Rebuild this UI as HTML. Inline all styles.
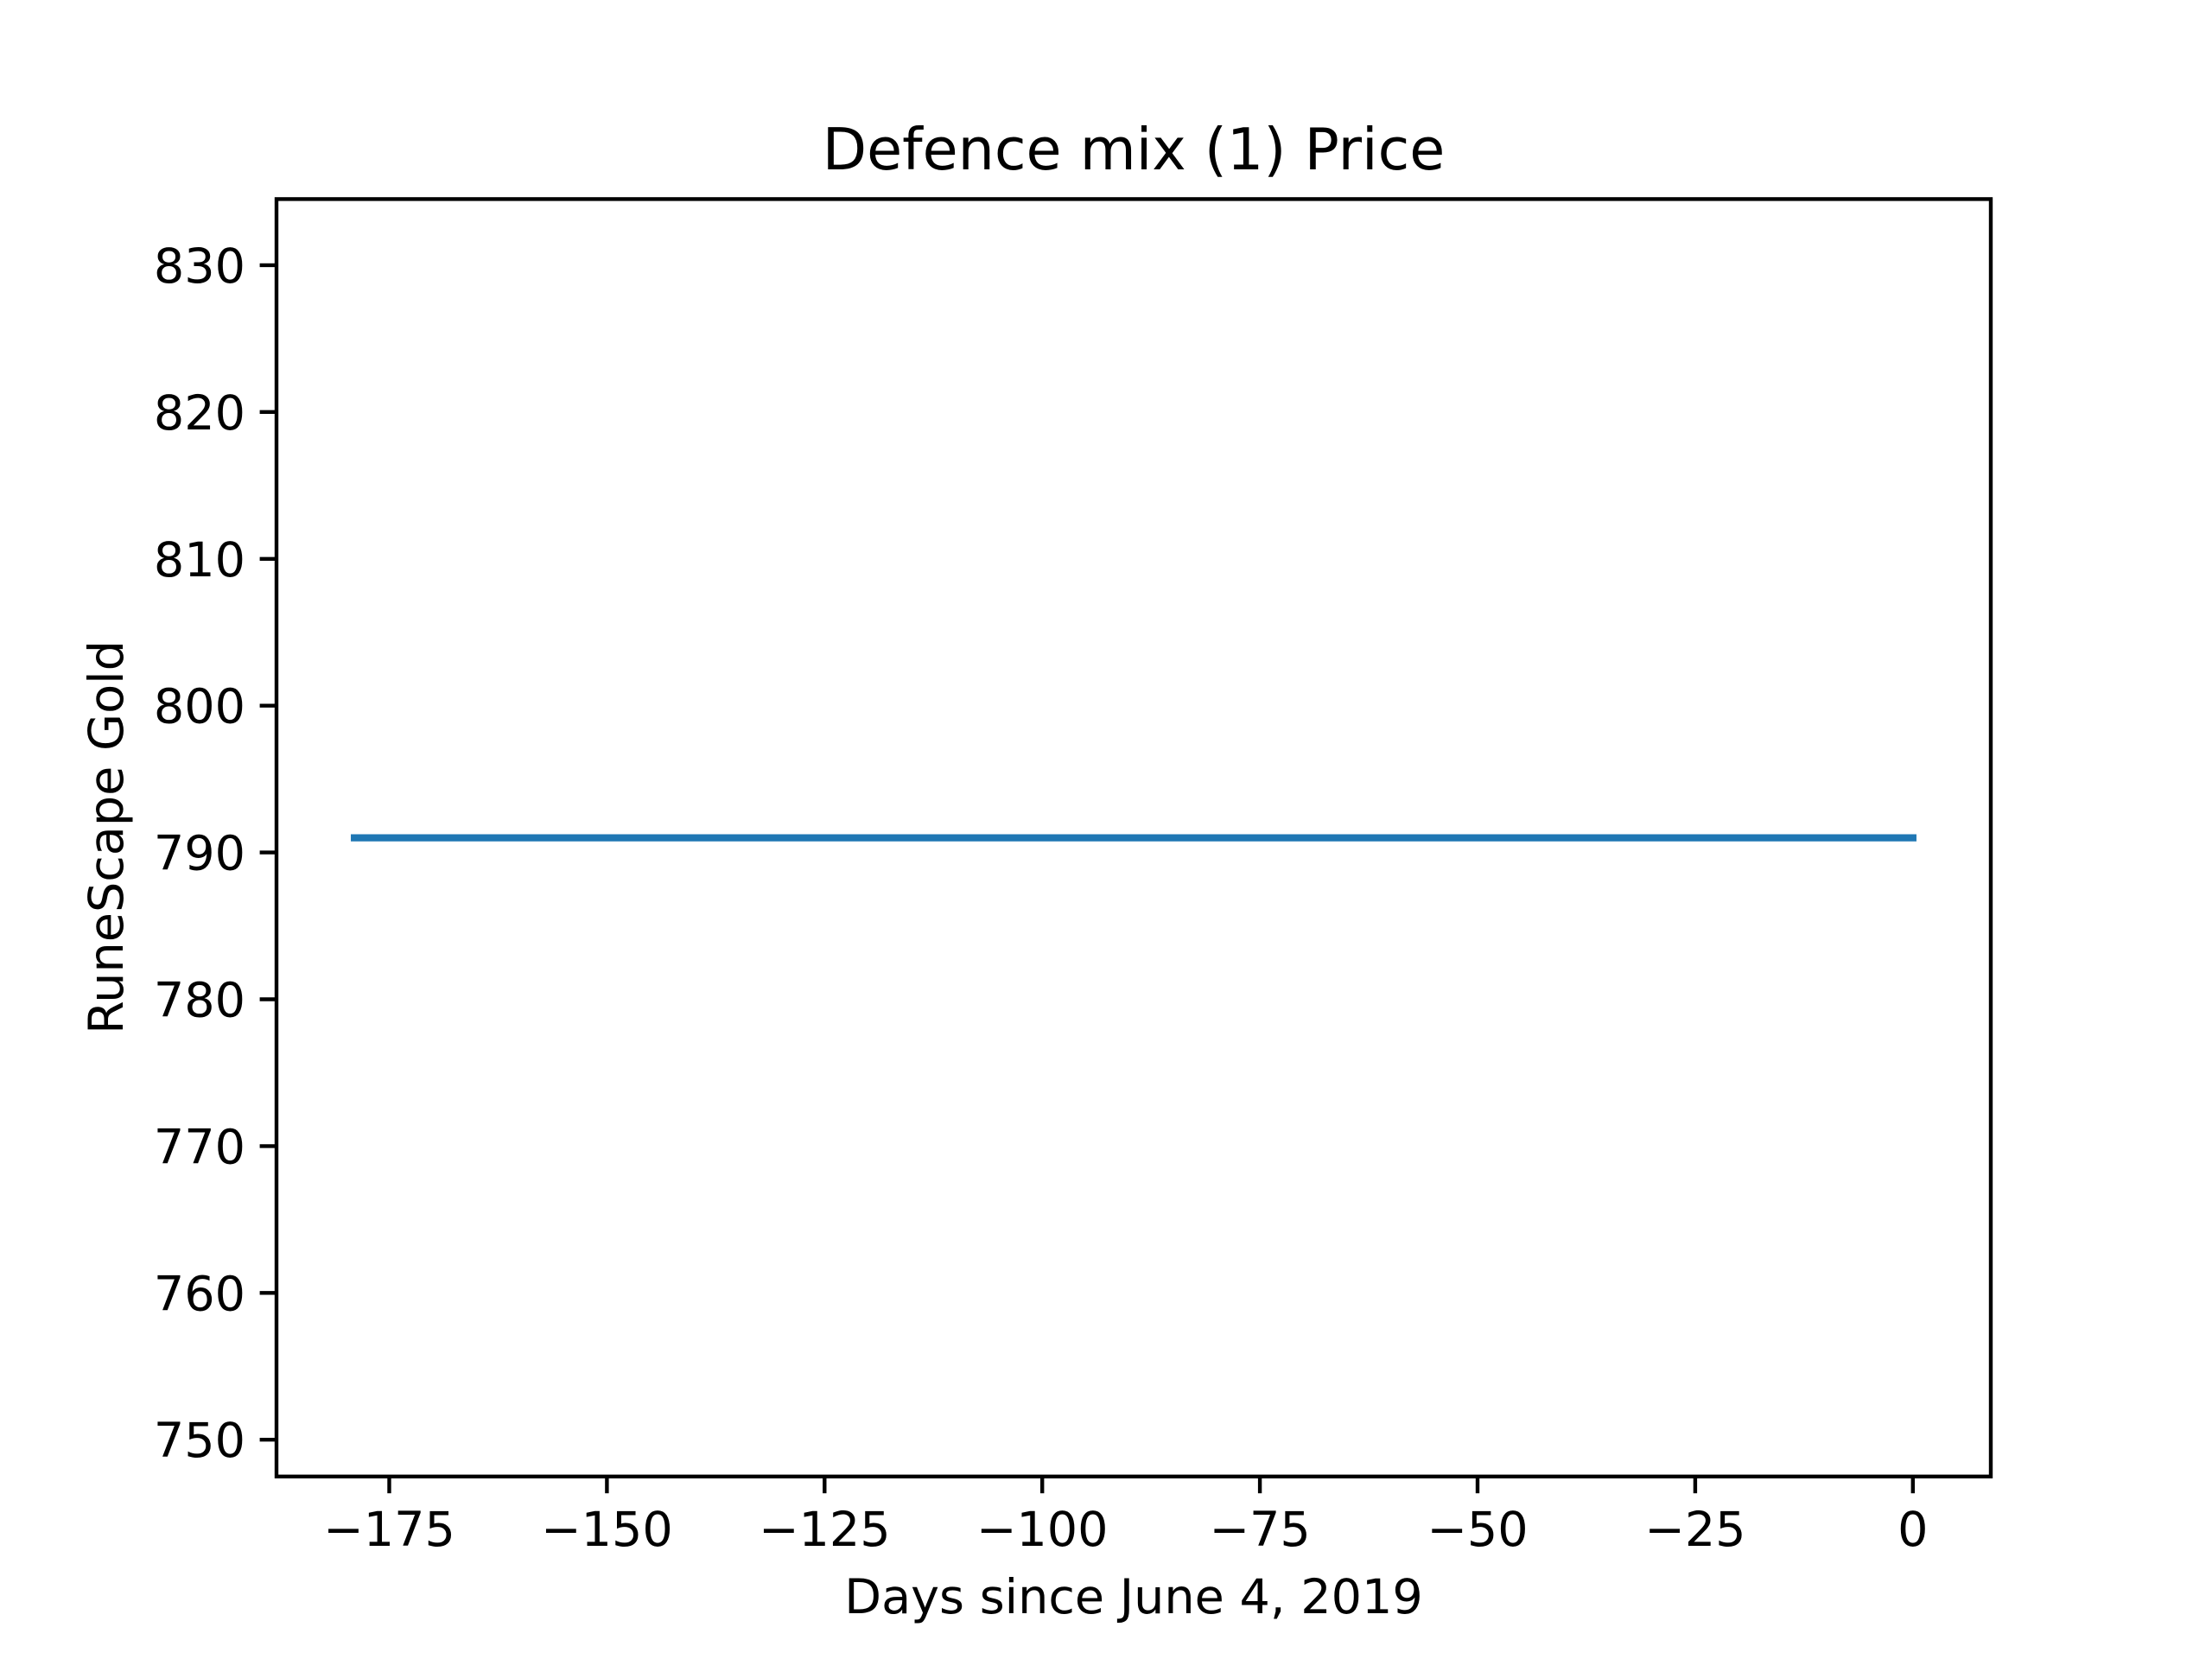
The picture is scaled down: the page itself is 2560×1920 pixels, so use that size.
<!DOCTYPE html>
<html>
<head>
<meta charset="utf-8">
<style>
html,body{margin:0;padding:0;background:#fff;}
svg{display:block;font-family:"DejaVu Sans","Liberation Sans",sans-serif;}
</style>
</head>
<body>
<svg id="chart" width="2560" height="1920" viewBox="0 0 2560 1920" xmlns="http://www.w3.org/2000/svg">
<rect x="0" y="0" width="2560" height="1920" fill="#fff"/>
<text x="1312" y="196" font-size="66.7" text-anchor="middle">Defence mix (1) Price</text>
<g id="plot"></g>
<text x="1312" y="1867" font-size="55.6" text-anchor="middle">Days since June 4, 2019</text>
<text transform="translate(142,969) rotate(-90)" font-size="55.6" text-anchor="middle">RuneScape Gold</text>
</svg>
<script>
const days = [-179, 0];
const prices = [791, 791];
const xTicks = [-175, -150, -125, -100, -75, -50, -25, 0];
const yTicks = [750, 760, 770, 780, 790, 800, 810, 820, 830];

const L = 320, R = 2304, T = 230.4, B = 1708.8;
const xMin = -187.95, xMax = 8.95, yMin = 747.495, yMax = 834.505;
const xs = v => L + (v - xMin) / (xMax - xMin) * (R - L);
const ys = v => B - (v - yMin) / (yMax - yMin) * (B - T);
const NS = "http://www.w3.org/2000/svg";
const g = document.getElementById('plot');
function mk(tag, attrs) {
  const e = document.createElementNS(NS, tag);
  for (const k in attrs) e.setAttribute(k, attrs[k]);
  g.appendChild(e);
  return e;
}
const pts = days.map((d, i) => xs(d) + "," + ys(prices[i])).join(" ");
const line = mk('polyline', {points: pts, fill: 'none', stroke: '#1f77b4', 'stroke-width': 8.3, 'stroke-linecap': 'square'});



xTicks.forEach(t => {
  const x = xs(t);
  const tk = mk('line', {x1: x, x2: x, y1: B, y2: B + 19.4, stroke: '#000', 'stroke-width': 4.4});
  
  
  const lb = mk('text', {x: x, y: B + 80, 'font-size': 55.6, 'text-anchor': 'middle'});
  lb.textContent = t < 0 ? '\u2212' + Math.abs(t) : String(t);
  
  
});
yTicks.forEach(t => {
  const y = ys(t);
  const tk = mk('line', {x1: L - 19.4, x2: L, y1: y, y2: y, stroke: '#000', 'stroke-width': 4.4});
  
  
  const lb = mk('text', {x: L - 36, y: y + 20, 'font-size': 55.6, 'text-anchor': 'end'});
  lb.textContent = String(t);
  
  
});
const frame = mk('rect', {x: L, y: T, width: R - L, height: B - T, fill: 'none', stroke: '#000', 'stroke-width': 4.4});


</script>
</body>
</html>
